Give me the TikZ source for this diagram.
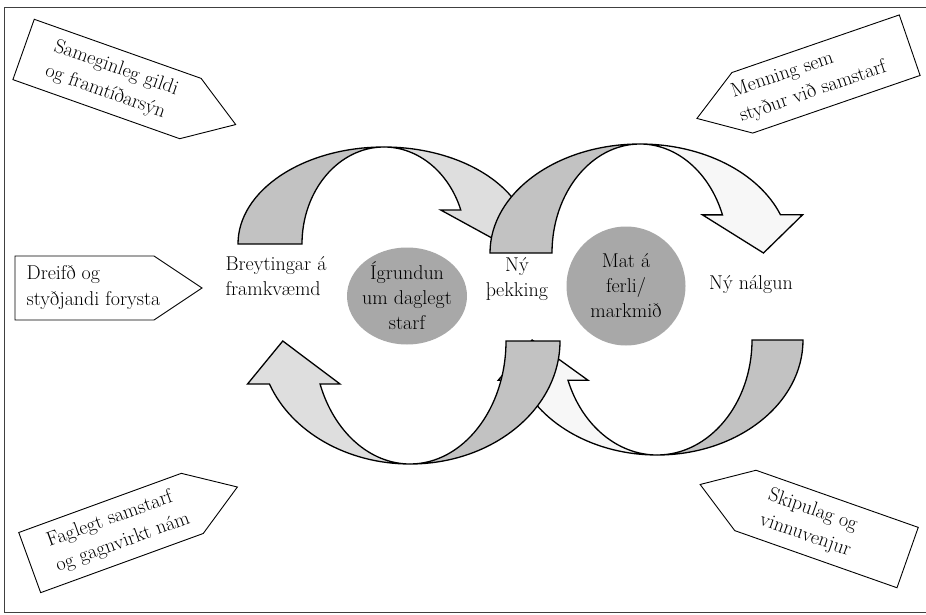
\documentclass[tikz,border=0pt]{standalone}
\usepackage{tikz}
\usetikzlibrary{shapes.geometric}
\tikzstyle{pixelGrid} = [x = 1pt, y = -1pt]
\definecolor{backGrey}{gray}{0.76}
\definecolor{frontGrey}{gray}{0.87}
\definecolor{frontWhite}{gray}{0.97}
\definecolor{bubbleGrey}{gray}{0.66}
\tikzstyle{frameLine} = [color=black!75, line width=1pt]
\tikzstyle{signLine} = [color=black, fill=white, line width=0.9pt]
\tikzstyle{signText} = [font=\fontsize{20}{26}\selectfont, align=left, inner sep=0pt]
\tikzstyle{arrowLine} = [color=black, line width=1.3pt]
\tikzstyle{labelText} = [font=\fontsize{20}{25}\selectfont, inner sep=0pt]
\tikzstyle{bubble} = [ellipse, fill=bubbleGrey, inner sep=0pt]
\newcommand{\signPost}[8]{
  \begin{scope}[shift={(#2,#3)}, rotate=#4]
    \filldraw [signLine] (-#6/2, -32) -- (#6/2, -32) -- (#6/2 + 48, 0) -- (#6/2, 32) -- (-#6/2, 32) -- cycle;
    \node [signText, rotate=#5] (#1) at (#7, 0) {#8};
  \end{scope}
}
\newcommand{\curvedArrow}[7]{
  \begin{scope}[shift={#1}, rotate=#2, yscale=-1]
    \pgfmathsetmacro{\endY}{0.35 * #5}
    \pgfmathsetmacro{\outerX}{0.9368 * #3}
    \pgfmathsetmacro{\innerX}{0.9368 * #4}
    \pgfmathsetmacro{\tipX}{(\outerX + \innerX) / 2 + 12}
    % back half of the band
    \filldraw [arrowLine, fill=#6] (-#3, 0) arc [start angle=180, end angle=90, x radius=#3, y radius=#5]
      arc [start angle=90, end angle=180, x radius=#4, y radius=#5] -- cycle;
    % front half with the head
    \filldraw [arrowLine, fill=#7] (0, #5) arc [start angle=90, end angle=20.49, x radius=#3, y radius=#5]
      -- (\outerX + 22, \endY) -- (\tipX, 0) -- (\innerX - 20, \endY) -- (\innerX, \endY)
      arc [start angle=20.49, end angle=90, x radius=#4, y radius=#5] -- cycle;
  \end{scope}
}

\begin{document}
\begin{tikzpicture}[pixelGrid]
  \useasboundingbox (0,0) rectangle (926,615);
  \draw [frameLine] (926,8) -- (4,8) -- (4,612) -- (926,612);

  \signPost{vision}{107}{79}{-19.5}{-19.5}{177}{5}{Sameginleg gildi\\og framtíðarsýn}
  \signPost{culture}{826}{74}{199}{19}{177}{18}{Menning sem\\styður við samstarf}
  \signPost{leadership}{84.5}{288}{0}{0}{139}{9}{Dreifð og\\styðjandi forysta}
  \signPost{learning}{111}{533}{20}{20}{173}{8}{Faglegt samstarf\\og gagnvirkt nám}
  \signPost{structure}{826.5}{529}{160.6}{-19.4}{172}{18}{Skipulag og\\vinnuvenjur}

  \curvedArrow{(384,244)}{0}{146}{82}{97}{backGrey}{frontGrey}
  \curvedArrow{(640,253)}{0}{150}{88}{109}{backGrey}{frontWhite}
  \curvedArrow{(657,340)}{180}{146}{95}{115}{backGrey}{frontWhite}
  \curvedArrow{(410,341)}{180}{150}{96}{123}{backGrey}{frontGrey}

  \node [bubble, minimum width=120pt, minimum height=97pt] (reflectBubble) at (407,296) {};
  \node [bubble, minimum size=119pt] (goalBubble) at (626,286) {};
  \node [labelText, align=center] (reflect) at (reflectBubble) {Ígrundun\\um daglegt\\starf};
  \node [labelText, align=center] (goal) at (goalBubble) {Mat á\\ferli/\\markmið};
  \node [labelText, align=left] (change) at (276,276) {Breytingar á\\framkvæmd};
  \node [labelText, align=center] (knowledge) at (517,279) {Ný\\þekking};
  \node [labelText] (approach) at (751,285) {Ný nálgun};
\end{tikzpicture}
\end{document}
